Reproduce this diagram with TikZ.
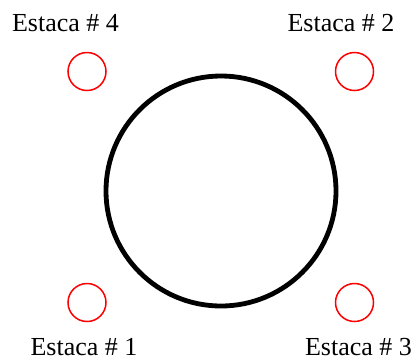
\documentclass[tikz,border=0pt]{standalone}
\usepackage{fontspec}
\setmainfont{Liberation Serif}
\begin{document}
\begin{tikzpicture}[x=1pt,y=-1pt,
  pile/.style={draw=red,line width=1.5pt,circle,minimum size=38pt,inner sep=0pt},
  lbl/.style={anchor=base,inner sep=0pt,font=\fontsize{26}{30}\selectfont}]
\useasboundingbox (0,0) rectangle (414,360);
\node[draw=black,line width=4.8pt,circle,minimum size=230pt,inner sep=0pt] (col) at (221,191) {};
\node[pile] (p4) at (87,71.5) {};
\node[pile] (p2) at (354.5,71.5) {};
\node[pile] (p1) at (87,302.5) {};
\node[pile] (p3) at (354.5,302.5) {};
\node[lbl] (l4) at (65.5,31) {Estaca \# 4};
\node[lbl] (l2) at (341,31) {Estaca \# 2};
\node[lbl] (l1) at (84,355) {Estaca \# 1};
\node[lbl] (l3) at (358.5,355) {Estaca \# 3};
\end{tikzpicture}
\end{document}
